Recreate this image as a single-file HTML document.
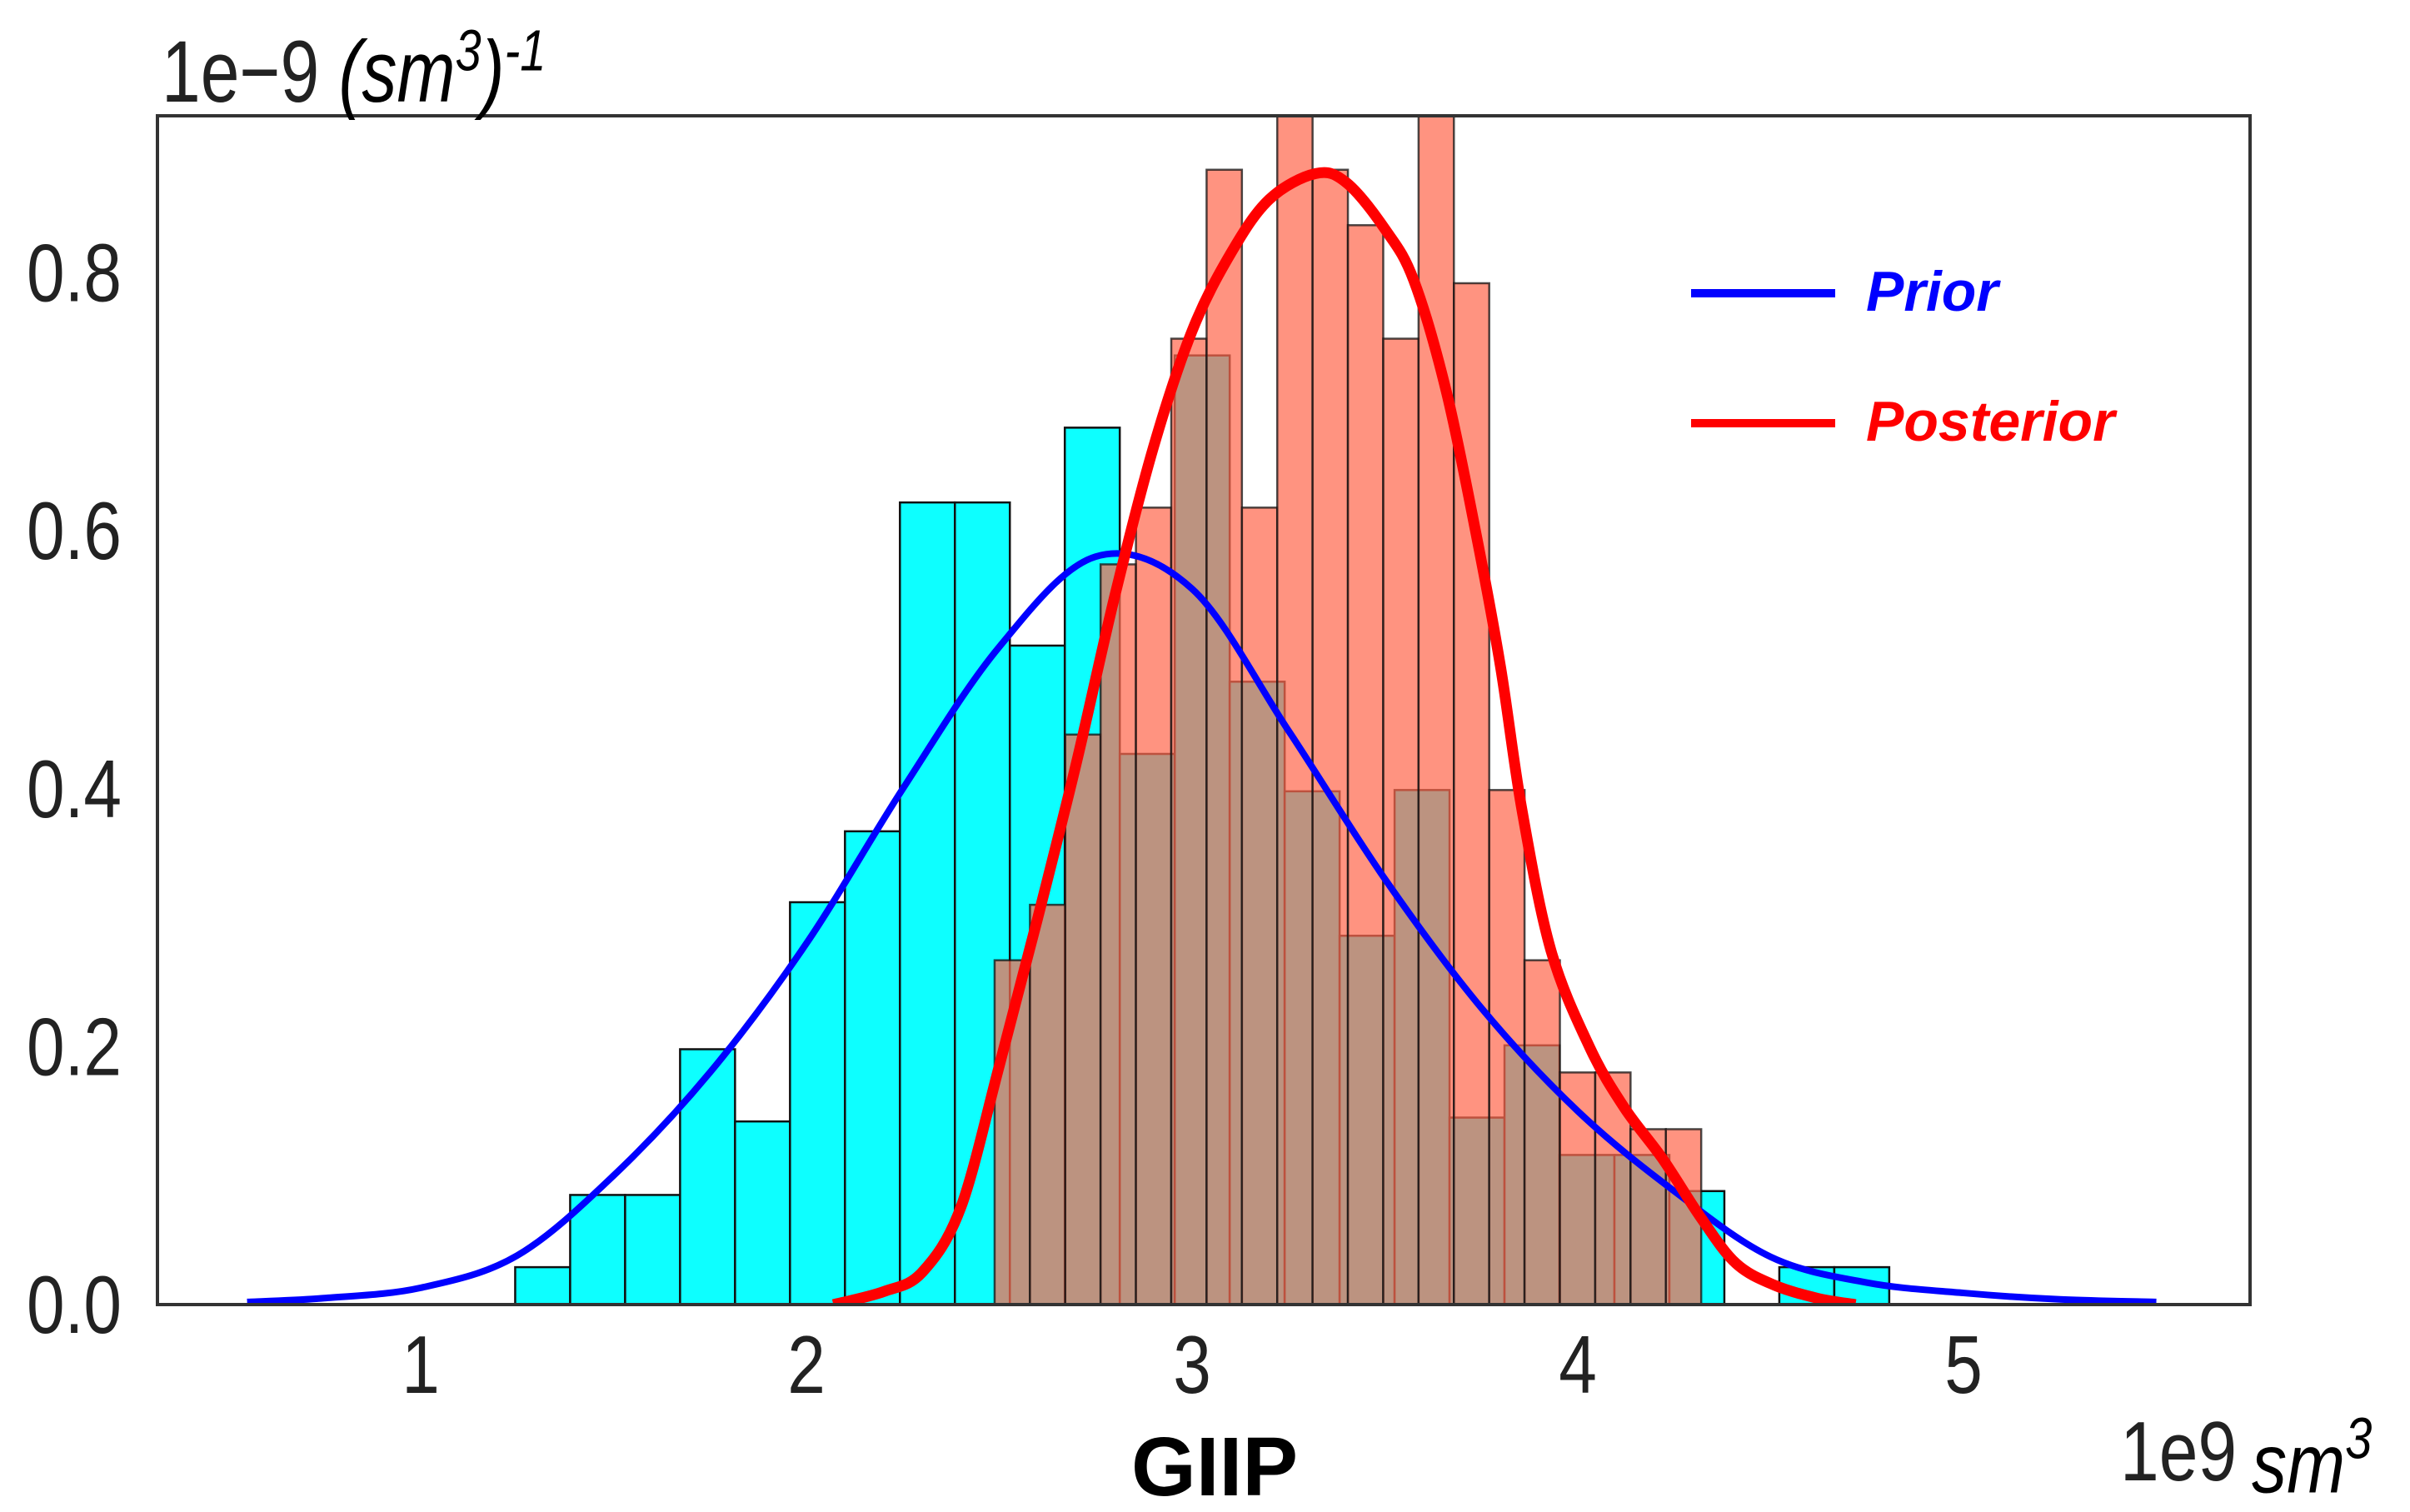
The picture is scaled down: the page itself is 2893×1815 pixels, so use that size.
<!DOCTYPE html>
<html><head><meta charset="utf-8"><style>
html,body{margin:0;padding:0;background:#fff;}
svg{display:block;}
</style></head><body>
<svg id="chart" xmlns="http://www.w3.org/2000/svg" width="2893" height="1815" viewBox="0 0 2893 1815" font-family="'Liberation Sans', sans-serif">
<defs><clipPath id="plotclip"><rect x="189" y="139" width="2512" height="1427"/></clipPath></defs>
<rect x="0" y="0" width="2893" height="1815" fill="#fff"/>
<g id="bars" clip-path="url(#plotclip)"></g>
<rect x="189" y="139" width="2512" height="1427" fill="none" stroke="#333" stroke-width="4"/>
<g id="yticks"></g>
<g id="xticks"></g>
<text transform="translate(194,122) scale(1,1.25)" font-size="84" fill="#222">1e−9 <tspan font-style="italic" fill="#000">(sm<tspan font-size="56" dy="-30">3</tspan><tspan dy="30">)</tspan><tspan font-size="56" dy="-30">-1</tspan></tspan></text>
<text x="1458" y="1795" font-size="100" font-weight="bold" text-anchor="middle" fill="#000">GIIP</text>
<text transform="translate(2545,1777) scale(1,1.2)" font-size="84" fill="#222">1e9<tspan font-style="italic" fill="#000" dx="18" dy="12">sm<tspan font-size="58" dy="-34">3</tspan></tspan></text>
<g>
<line x1="2030" y1="352" x2="2203" y2="352" stroke="#0000ff" stroke-width="10"/>
<text x="2240" y="373" font-size="68" font-weight="bold" font-style="italic" fill="#0000ff">Prior</text>
<line x1="2030" y1="508" x2="2203" y2="508" stroke="#ff0000" stroke-width="10"/>
<text x="2240" y="529" font-size="68" font-weight="bold" font-style="italic" fill="#ff0000">Posterior</text>
</g>
</svg>
<script>
const priorStart = 1.245, priorWidth = 0.1425;
const priorHeights = [0.029,0.085,0.085,0.198,0.142,0.312,0.367,0.622,0.622,0.511,0.680,0.427,0.736,0.483,0.398,0.286,0.399,0.145,0.201,0.116,0.116,0.088,0,0.029,0.029];
const postStart = 2.488, postWidth = 0.0916;
const postHeights = [0.267,0.310,0.442,0.574,0.618,0.749,0.880,0.618,0.97,0.880,0.837,0.749,0.97,0.792,0.399,0.267,0.180,0.180,0.136,0.136];
const priorX = [0.55,0.75,1.0,1.25,1.5,1.75,2.0,2.25,2.5,2.75,3.0,3.25,3.5,3.75,4.0,4.25,4.5,4.75,5.0,5.25,5.5];
const priorY = [0.002,0.005,0.013,0.038,0.10,0.18,0.28,0.40,0.51,0.58,0.555,0.445,0.33,0.23,0.15,0.088,0.037,0.017,0.009,0.004,0.002];
const postX = [2.07,2.2,2.3,2.4,2.5,2.6,2.7,2.8,2.9,3.0,3.1,3.2,3.32,3.4,3.5,3.575,3.66,3.74,3.8,3.855,3.93,4.03,4.12,4.22,4.32,4.41,4.51,4.62,4.72];
const postY = [0.0,0.01,0.025,0.075,0.185,0.30,0.42,0.55,0.665,0.755,0.815,0.857,0.877,0.87,0.834,0.794,0.707,0.592,0.494,0.384,0.275,0.20,0.153,0.113,0.067,0.032,0.015,0.005,0.0];
const xTicks = [1,2,3,4,5];
const yTicks = [0.0,0.2,0.4,0.6,0.8];

const X0 = 505, XS = 463, Y0 = 1566, YS = 1548;
function sx(v){return X0 + (v-1)*XS;}
function sy(v){return Y0 - v*YS;}
const NS = 'http://www.w3.org/2000/svg';
const bars = document.getElementById('bars');
function mk(tag, attrs, parent){const e=document.createElementNS(NS,tag);for(const k in attrs)e.setAttribute(k,attrs[k]);parent.appendChild(e);return e;}

priorHeights.forEach((h,i)=>{
  if(h<=0) return;
  const x0=sx(priorStart+i*priorWidth), x1=sx(priorStart+(i+1)*priorWidth);
  const r=mk('rect',{x:x0,y:sy(h),width:x1-x0,height:Y0-sy(h),fill:'#0dffff',stroke:'#111','stroke-width':2.5},bars);
  
  
});
postHeights.forEach((h,i)=>{
  const x0=sx(postStart+i*postWidth), x1=sx(postStart+(i+1)*postWidth);
  const r=mk('rect',{x:x0,y:sy(h),width:x1-x0,height:Y0-sy(h),fill:'rgb(255,106,80)','fill-opacity':0.725,stroke:'#111','stroke-opacity':0.75,'stroke-width':2.5},bars);
  
  
});
function curve(xs,ys){
  const p=xs.map((x,i)=>[sx(x),sy(ys[i])]);
  let d='M'+p[0][0]+','+p[0][1];
  for(let i=0;i<p.length-1;i++){
    const p0=p[Math.max(0,i-1)],p1=p[i],p2=p[i+1],p3=p[Math.min(p.length-1,i+2)];
    const c1x=p1[0]+(p2[0]-p0[0])/6,c1y=p1[1]+(p2[1]-p0[1])/6;
    const c2x=p2[0]-(p3[0]-p1[0])/6,c2y=p2[1]-(p3[1]-p1[1])/6;
    d+=' C'+c1x+','+c1y+' '+c2x+','+c2y+' '+p2[0]+','+p2[1];
  }
  return d;
}
const pl=mk('path',{d:curve(priorX,priorY),fill:'none',stroke:'#0000ff','stroke-width':8,'stroke-linejoin':'round'},bars);


const ql=mk('path',{d:curve(postX,postY),fill:'none',stroke:'#ff0000','stroke-width':13,'stroke-linejoin':'round'},bars);



const yt=document.getElementById('yticks');
yTicks.forEach(v=>{
  const t=mk('text',{transform:'translate(146,'+(sy(v)+34)+') scale(1,1.2)','font-size':82,'text-anchor':'end',fill:'#222'},yt);
  t.textContent=v.toFixed(1);
  
  
});
const xt=document.getElementById('xticks');
xTicks.forEach(v=>{
  const t=mk('text',{transform:'translate('+sx(v)+',1672) scale(1,1.2)','font-size':82,'text-anchor':'middle',fill:'#222'},xt);
  t.textContent=String(v);
  
  
});
</script>
</body></html>
